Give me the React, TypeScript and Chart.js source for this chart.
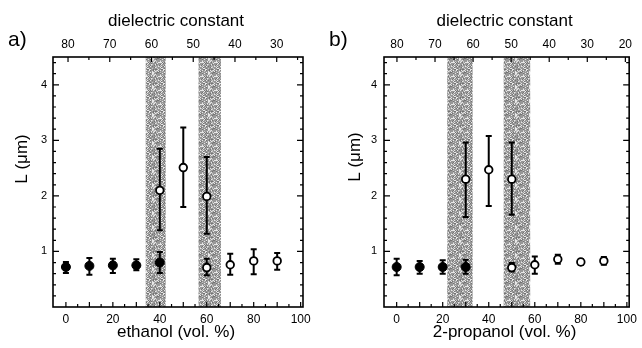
import React, { useEffect, useRef } from "react";
import { Chart, registerables } from "chart.js";

Chart.register(...registerables);

// ---------- data: ethanol (panel a) ----------
const ethanolFilledX = [0, 10, 20, 30, 40];
const ethanolFilledL = [0.72, 0.74, 0.75, 0.75, 0.8];
const ethanolFilledLow = [0.61, 0.58, 0.61, 0.66, 0.61];
const ethanolFilledHigh = [0.81, 0.88, 0.87, 0.86, 0.99];
const ethanolOpenX = [40, 50, 60, 60, 70, 80, 90];
const ethanolOpenL = [2.1, 2.51, 1.99, 0.71, 0.76, 0.83, 0.83];
const ethanolOpenLow = [1.38, 1.8, 1.32, 0.57, 0.58, 0.59, 0.67];
const ethanolOpenHigh = [2.85, 3.23, 2.7, 0.87, 0.96, 1.04, 0.97];
const ethanolBandStart = [34, 56.5];
const ethanolBandEnd = [42.5, 66];
const ethanolDielMin = 23.7;
const ethanolDielMax = 83.6;
const ethanolDielTicks = [80, 70, 60, 50, 40, 30];

// ---------- data: 2-propanol (panel b) ----------
const propFilledX = [0, 10, 20, 30];
const propFilledL = [0.72, 0.72, 0.72, 0.72];
const propFilledLow = [0.57, 0.6, 0.6, 0.6];
const propFilledHigh = [0.87, 0.83, 0.84, 0.85];
const propOpenX = [30, 40, 50, 50, 60, 70, 80, 90];
const propOpenL = [2.3, 2.47, 2.3, 0.71, 0.76, 0.86, 0.81, 0.83];
const propOpenLow = [1.62, 1.82, 1.66, 0.64, 0.6, 0.78, 0.76, 0.76];
const propOpenHigh = [2.96, 3.08, 2.96, 0.79, 0.91, 0.94, 0.86, 0.9];
const propBandStart = [22, 46.5];
const propBandEnd = [33, 58];
const propDielMin = 19.0;
const propDielMax = 83.4;
const propDielTicks = [80, 70, 60, 50, 40, 30, 20];

// ---------- shared axis values ----------
const volTicks = [0, 20, 40, 60, 80, 100];
const lTicks = [1, 2, 3, 4];
const volMin = -5.5;
const volMax = 101;
const lMin = 0;
const lMax = 4.5;

const FONT = "'Liberation Sans', Arial, Helvetica, sans-serif";

function makePattern(ctx: CanvasRenderingContext2D) {
  const n = 14;
  const c = document.createElement("canvas");
  c.width = n;
  c.height = n;
  const p = c.getContext("2d")!;
  p.fillStyle = "#979797";
  p.fillRect(0, 0, n, n);
  for (let y = 0; y < n; y++) {
    for (let x = 0; x < n; x++) {
      const h = (x * 7 + y * 11 + x * y * 3 + ((x + 2 * y) % 5) * 13) % 17;
      if (h === 0 || h === 4 || h === 9 || h === 13) {
        p.fillStyle = "#e8e8e8";
        p.fillRect(x, y, 1, 1);
      } else if (h === 6 || h === 15) {
        p.fillStyle = "#c4c4c4";
        p.fillRect(x, y, 1, 1);
      } else if (h === 2 || h === 11) {
        p.fillStyle = "#737373";
        p.fillRect(x, y, 1, 1);
      }
    }
  }
  return ctx.createPattern(c, "repeat");
}

type PanelProps = {
  tag: string;
  xTitle: string;
  filledX: number[];
  filledL: number[];
  filledLow: number[];
  filledHigh: number[];
  openX: number[];
  openL: number[];
  openLow: number[];
  openHigh: number[];
  bandStart: number[];
  bandEnd: number[];
  dielMin: number;
  dielMax: number;
  dielTicks: number[];
  leftW: number;
  rightPad: number;
  yTitleX: number;
  yTitleY: number;
  yLabelPad: number;
};

function Panel(props: PanelProps) {
  const ref = useRef<HTMLCanvasElement | null>(null);
  useEffect(() => {
    const canvas = ref.current!;
    const ctx0 = canvas.getContext("2d")!;
    const pattern = makePattern(ctx0);

    const overlay = {
      id: "overlay",
      beforeDatasetsDraw(chart: any) {
        const { ctx, chartArea: a, scales } = chart;
        const xs = scales.x;
        const ys = scales.y;
        ctx.save();
        // shaded bands
        ctx.fillStyle = pattern as any;
        for (let i = 0; i < props.bandStart.length; i++) {
          const x1 = xs.getPixelForValue(props.bandStart[i]);
          const x2 = xs.getPixelForValue(props.bandEnd[i]);
          ctx.fillRect(x1, a.top, x2 - x1, a.bottom - a.top);
        }
        // error bars
        ctx.strokeStyle = "#000";
        ctx.lineWidth = 2;
        chart.data.datasets.forEach((ds: any) => {
          ds.data.forEach((pt: any, i: number) => {
            const px = xs.getPixelForValue(pt.x);
            const pl = ys.getPixelForValue(ds.errLow[i]);
            const ph = ys.getPixelForValue(ds.errHigh[i]);
            ctx.beginPath();
            ctx.moveTo(px, pl);
            ctx.lineTo(px, ph);
            ctx.moveTo(px - 3, pl);
            ctx.lineTo(px + 3, pl);
            ctx.moveTo(px - 3, ph);
            ctx.lineTo(px + 3, ph);
            ctx.stroke();
          });
        });
        ctx.restore();
      },
      afterDraw(chart: any) {
        const { ctx, chartArea: a, scales } = chart;
        const xs = scales.x;
        const x2 = scales.x2;
        const ys = scales.y;
        ctx.save();
        ctx.strokeStyle = "#000";
        // tick marks (inward)
        ctx.lineWidth = 1.2;
        ctx.beginPath();
        for (let v = 0; v <= 100; v += 5) {
          const px = xs.getPixelForValue(v);
          const len = v % 10 === 0 ? 5 : 3;
          ctx.moveTo(px, a.bottom);
          ctx.lineTo(px, a.bottom - len);
        }
        for (let v = Math.ceil(props.dielMin / 5) * 5; v <= props.dielMax; v += 5) {
          const px = x2.getPixelForValue(v);
          const len = v % 10 === 0 ? 5 : 3;
          ctx.moveTo(px, a.top);
          ctx.lineTo(px, a.top + len);
        }
        for (let k = 1; k < 23; k++) {
          const v = k * 0.2;
          const py = ys.getPixelForValue(v);
          const major = k % 5 === 0;
          const len = major ? 6 : 3;
          ctx.moveTo(a.left, py);
          ctx.lineTo(a.left + len, py);
          ctx.moveTo(a.right, py);
          ctx.lineTo(a.right - len, py);
        }
        ctx.stroke();
        // frame
        ctx.lineWidth = 1.6;
        ctx.strokeRect(a.left, a.top, a.right - a.left, a.bottom - a.top);
        // texts
        ctx.fillStyle = "#000";
        ctx.textBaseline = "middle";
        ctx.textAlign = "left";
        ctx.font = `21px ${FONT}`;
        ctx.fillText(props.tag, 8, 40);
        ctx.textAlign = "center";
        ctx.font = `17px ${FONT}`;
        const cx = (a.left + a.right) / 2;
        ctx.fillText("dielectric constant", cx - 2, 21);
        ctx.fillText(props.xTitle, cx - 2, 332);
        ctx.translate(props.yTitleX, props.yTitleY);
        ctx.rotate(-Math.PI / 2);
        ctx.fillText("L (\u03bcm)", 0, 0);
        ctx.restore();
      },
    };

    const chart = new Chart(canvas, {
      type: "scatter",
      data: {
        datasets: [
          {
            data: props.filledX.map((x, i) => ({ x, y: props.filledL[i] })),
            errLow: props.filledLow,
            errHigh: props.filledHigh,
            pointRadius: 4.5,
            pointBackgroundColor: "#000",
            pointBorderColor: "#000",
            pointBorderWidth: 1,
          } as any,
          {
            data: props.openX.map((x, i) => ({ x, y: props.openL[i] })),
            errLow: props.openLow,
            errHigh: props.openHigh,
            pointRadius: 3.8,
            pointBackgroundColor: "#fff",
            pointBorderColor: "#000",
            pointBorderWidth: 1.8,
          } as any,
        ],
      },
      options: {
        animation: false,
        responsive: false,
        events: [],
        layout: { padding: { left: 0, right: props.rightPad, top: 0, bottom: 0 } },
        plugins: { legend: { display: false }, tooltip: { enabled: false } },
        scales: {
          x: {
            type: "linear",
            position: "bottom",
            min: volMin,
            max: volMax,
            grid: { display: false, drawTicks: false },
            border: { display: false },
            afterBuildTicks: (s: any) => {
              s.ticks = volTicks.map((v) => ({ value: v }));
            },
            afterFit: (s: any) => {
              s.height = 41;
            },
            ticks: {
              padding: 5,
              maxRotation: 0,
              autoSkip: false,
              color: "#000",
              font: { size: 12, family: FONT },
            },
          },
          x2: {
            type: "linear",
            position: "top",
            reverse: true,
            min: props.dielMin,
            max: props.dielMax,
            grid: { display: false, drawTicks: false },
            border: { display: false },
            afterBuildTicks: (s: any) => {
              s.ticks = props.dielTicks.map((v) => ({ value: v }));
            },
            afterFit: (s: any) => {
              s.height = 57;
            },
            ticks: {
              padding: 5,
              maxRotation: 0,
              autoSkip: false,
              color: "#000",
              font: { size: 12, family: FONT },
            },
          },
          y: {
            type: "linear",
            position: "left",
            min: lMin,
            max: lMax,
            grid: { display: false, drawTicks: false },
            border: { display: false },
            afterBuildTicks: (s: any) => {
              s.ticks = lTicks.map((v) => ({ value: v }));
            },
            afterFit: (s: any) => {
              s.width = props.leftW;
            },
            ticks: {
              padding: props.yLabelPad,
              color: "#000",
              font: { size: 11, family: FONT },
            },
          },
        },
      } as any,
      plugins: [overlay],
    });
    return () => chart.destroy();
  }, []);
  return (
    <canvas
      ref={ref}
      width={321}
      height={348}
      style={{ display: "block", width: 321, height: 348 }}
    />
  );
}

export default function App() {
  return (
    <div
      style={{
        position: "fixed",
        left: 0,
        top: 0,
        width: 642,
        height: 348,
        display: "flex",
        background: "#fff",
      }}
    >
      <Panel
        tag="a)"
        xTitle="ethanol (vol. %)"
        filledX={ethanolFilledX}
        filledL={ethanolFilledL}
        filledLow={ethanolFilledLow}
        filledHigh={ethanolFilledHigh}
        openX={ethanolOpenX}
        openL={ethanolOpenL}
        openLow={ethanolOpenLow}
        openHigh={ethanolOpenHigh}
        bandStart={ethanolBandStart}
        bandEnd={ethanolBandEnd}
        dielMin={ethanolDielMin}
        dielMax={ethanolDielMax}
        dielTicks={ethanolDielTicks}
        leftW={53}
        rightPad={18}
        yTitleX={22}
        yTitleY={159}
        yLabelPad={6}
      />
      <Panel
        tag="b)"
        xTitle="2-propanol (vol. %)"
        filledX={propFilledX}
        filledL={propFilledL}
        filledLow={propFilledLow}
        filledHigh={propFilledHigh}
        openX={propOpenX}
        openL={propOpenL}
        openLow={propOpenLow}
        openHigh={propOpenHigh}
        bandStart={propBandStart}
        bandEnd={propBandEnd}
        dielMin={propDielMin}
        dielMax={propDielMax}
        dielTicks={propDielTicks}
        leftW={63}
        rightPad={9}
        yTitleX={34}
        yTitleY={157}
        yLabelPad={7}
      />
    </div>
  );
}
